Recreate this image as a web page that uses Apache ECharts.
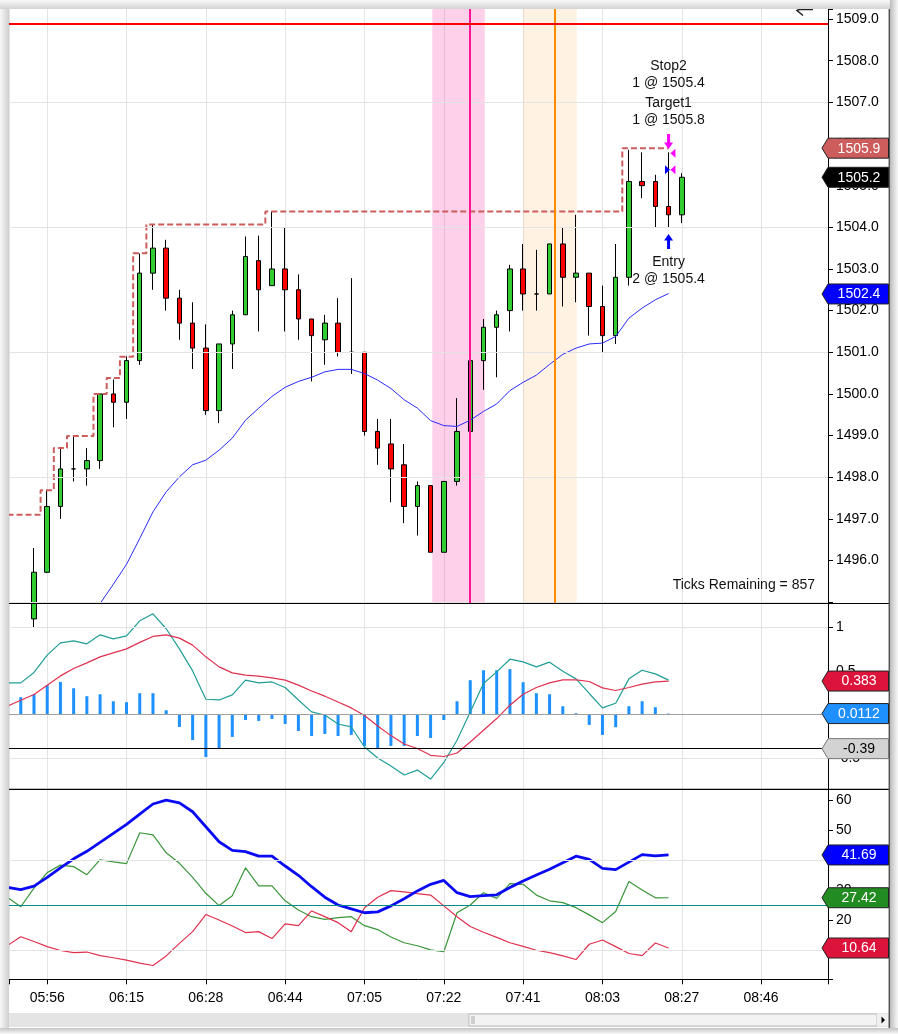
<!DOCTYPE html>
<html><head><meta charset="utf-8">
<script src="https://cdn.jsdelivr.net/npm/echarts@6/dist/echarts.min.js"></script>
<style>html,body{margin:0;padding:0;background:#fff}#c{width:898px;height:1034px}</style>
</head><body><div id="c"></div><script>
// ---------- data ----------
const timeLabels = ['05:56','06:15','06:28','06:44','07:05','07:22','07:41','08:03','08:27','08:46'];
const LABEL_STEP = 6;          // bars between time labels
const FIRST_CANDLE = -1;       // bar number of first candle (05:56 bar = 0)
const candleOpen  = [1494.6,1495.72,1497.3,1498.2,1498.2,1498.4,1500.0,1499.8,1500.8,1502.9,1503.5,1502.3,1501.7,1501.1,1499.6,1501.2,1501.9,1503.2,1502.6,1503.0,1502.5,1501.8,1501.3,1501.7,1501.0,1501.0,1499.1,1498.8,1498.3,1497.3,1497.8,1496.2,1497.9,1499.1,1500.8,1501.6,1502.0,1503.0,1502.4,1502.4,1503.6,1502.8,1502.9,1502.1,1501.4,1502.8,1505.1,1505.1,1504.5,1504.3];
const candleClose = [1495.72,1497.3,1498.2,1498.2,1498.4,1500.0,1499.8,1500.8,1502.9,1503.5,1502.3,1501.7,1501.1,1499.6,1501.2,1501.9,1503.3,1502.5,1503.0,1502.5,1501.8,1501.4,1501.7,1501.0,1501.0,1499.1,1498.7,1498.2,1497.3,1497.8,1496.2,1497.9,1499.1,1500.8,1501.6,1501.9,1503.0,1502.4,1502.4,1503.6,1502.8,1502.9,1502.1,1501.4,1502.8,1505.1,1505.0,1504.5,1504.3,1505.2];
const candleLow   = [1494.4,1495.7,1497.0,1497.9,1497.8,1498.2,1499.2,1499.4,1500.7,1502.5,1502.0,1501.3,1500.6,1499.5,1499.3,1500.6,1501.9,1501.5,1502.6,1501.5,1501.3,1500.3,1500.7,1500.9,1500.48,1499.0,1498.3,1497.4,1496.9,1496.6,1496.2,1496.2,1497.8,1498.5,1500.1,1500.4,1501.5,1502.0,1502.0,1502.4,1502.1,1502.2,1501.4,1501.0,1501.2,1502.6,1504.7,1504.0,1504.0,1504.1];
const candleHigh  = [1496.3,1497.7,1498.7,1499.0,1498.7,1500.0,1500.35,1500.9,1503.37,1504.06,1503.7,1502.5,1502.2,1501.67,1501.2,1502.0,1503.78,1503.8,1504.38,1504.0,1502.87,1501.8,1501.9,1502.3,1502.78,1501.0,1499.4,1499.4,1498.8,1497.9,1497.8,1497.9,1499.9,1500.8,1501.8,1502.0,1503.1,1503.6,1503.46,1503.6,1504.0,1504.3,1502.9,1502.6,1503.6,1505.86,1505.8,1505.26,1505.8,1505.3];

const FIRST_IND = -3;          // bar number of first indicator value
const stopLevels = [1497.1,1497.1,1497.1,1497.69,1498.7,1498.99,1498.99,1500.0,1500.38,1500.89,1503.38,
  1504.07,1504.07,1504.07,1504.07,1504.07,1504.07,1504.07,1504.07,1504.07,
  1504.38,1504.38,1504.38,1504.38,1504.38,1504.38,1504.38,1504.38,1504.38,1504.38,1504.38,1504.38,1504.38,1504.38,
  1504.38,1504.38,1504.38,1504.38,1504.38,1504.38,1504.38,1504.38,1504.38,1504.38,1504.38,1504.38,1504.38,
  1505.9,1505.9,1505.9,1505.9];
const FIRST_SMA = 3;
const smaValues = [1494.45,1494.97,1495.43,1495.91,1496.53,1497.17,1497.65,1498.01,1498.30,1498.41,1498.65,1498.94,1499.37,1499.66,1499.94,1500.16,1500.30,1500.40,1500.53,1500.59,1500.59,1500.49,1500.33,1500.13,1499.86,1499.66,1499.36,1499.24,1499.22,1499.37,1499.58,1499.76,1500.08,1500.28,1500.45,1500.71,1500.95,1501.10,1501.20,1501.22,1501.38,1501.82,1502.06,1502.26,1502.41];

const macdLine = [0.362,0.362,0.481,0.679,0.820,0.843,0.809,0.912,0.866,0.900,1.072,1.152,0.981,0.751,0.499,0.175,0.167,0.225,0.393,0.362,0.373,0.309,0.167,0.030,-0.005,-0.108,-0.142,-0.371,-0.497,-0.589,-0.692,-0.635,-0.738,-0.548,-0.294,0.030,0.355,0.488,0.633,0.603,0.545,0.599,0.496,0.408,0.241,0.076,0.129,0.408,0.507,0.465,0.394];
const macdSignal = [0.097,0.164,0.229,0.336,0.442,0.527,0.591,0.660,0.706,0.751,0.825,0.893,0.912,0.874,0.794,0.660,0.545,0.477,0.450,0.439,0.419,0.393,0.336,0.270,0.210,0.144,0.076,-0.011,-0.131,-0.241,-0.337,-0.389,-0.466,-0.480,-0.440,-0.314,-0.180,-0.046,0.107,0.232,0.309,0.362,0.396,0.396,0.378,0.305,0.275,0.309,0.347,0.373,0.383];
const macdHist = [0.255,0.198,0.232,0.336,0.373,0.301,0.210,0.232,0.152,0.141,0.244,0.244,0.049,-0.142,-0.291,-0.486,-0.383,-0.256,-0.062,-0.073,-0.050,-0.108,-0.188,-0.245,-0.222,-0.245,-0.233,-0.359,-0.383,-0.359,-0.359,-0.245,-0.268,-0.062,0.152,0.393,0.507,0.507,0.519,0.370,0.244,0.232,0.095,0.015,-0.119,-0.233,-0.145,0.095,0.152,0.084,0.0112];

const adxLine = [30.9,30.1,31.3,34.2,37.4,40.4,42.9,45.9,48.9,51.9,55.3,58.7,60.0,59.1,56.1,51.1,46.1,43.2,42.8,41.3,41.3,38.0,34.9,31.1,27.6,25.0,23.7,22.4,22.7,24.7,27.1,29.7,31.9,33.2,29.1,27.8,28.1,28.4,30.8,33.0,35.0,36.9,39.1,41.3,40.2,37.2,36.8,39.3,41.8,41.4,41.69];
const plusDI = [27.5,24.4,30.6,35.8,38.3,37.8,35.1,40.1,39.4,38.8,49.1,48.4,42.4,38.9,34.2,28.9,24.8,28.1,37.4,31.4,31.4,26.4,23.3,21.1,20.2,20.8,21.1,18.1,16.8,14.3,12.4,11.4,10.0,9.4,22.4,25.0,29.1,27.2,32.1,31.9,28.3,26.4,25.8,24.1,21.7,19.1,22.8,32.8,30.0,27.4,27.42];
const minusDI = [11.5,14.4,12.8,11.1,9.8,9.1,9.3,8.1,7.4,6.6,5.6,4.8,8.0,12.2,16.1,21.8,20.0,18.0,15.8,16.1,13.8,18.7,18.1,23.0,21.1,19.1,16.1,24.1,27.6,29.8,29.4,28.8,28.3,24.7,21.1,17.8,15.9,14.2,12.4,11.2,9.9,9.1,8.0,6.8,11.9,13.3,11.1,8.8,8.1,12.3,10.64];

const priceGridLevels = [1495,1498,1501,1504,1507];
const macdGridLevels = [1,-0.5];
const adxGridLevels = [10,40];
const alertLevel = 1508.88;
const macdZero = 0, macdTrigger = -0.39, adxThreshold = 25;

const bandStart = [29.13, 36.0], bandEnd = [33.1, 40.05];
const bandColor = ['rgba(255,20,147,0.2)','rgba(255,140,0,0.11)'];
const vLineX = [31.98, 38.41], vLineColor = ['#FF1493','#FF8C00'];

const markerX = [47, 47, 47.33, 46.92, 47.33];
const markerPrice = [1506.06, 1503.66, 1505.78, 1505.38, 1505.38];
const markerShape = ['down','up','left','right','left'];
const markerColor = ['#FF00FF','#0000FF','#FF00FF','#0000FF','#FF00FF'];
const noteX = [47,47,47];
const notePrice = [1507.66, 1506.77, 1502.97];
const noteText = ['Stop2\n1 @ 1505.4','Target1\n1 @ 1505.8','Entry\n2 @ 1505.4'];

const priceTags = [[1505.9,'1505.9','#CD5C5C','#fff'],[1505.2,'1505.2','#000000','#fff'],[1502.4,'1502.4','#0000FF','#fff']];
const macdTags  = [[0.383,'0.383','#DC143C','#fff'],[0.0112,'0.0112','#1E90FF','#fff'],[-0.39,'-0.39','#D3D3D3','#000']];
const adxTags   = [[41.69,'41.69','#0000FF','#fff'],[27.42,'27.42','#228B22','#fff'],[10.64,'10.64','#DC143C','#fff']];

// ---------- build ----------
const FONT = "'Liberation Sans', Arial, sans-serif";
const X_MIN = -2.89, X_MAX = 59.06;
const GRID_LEFT = 9, GRID_RIGHT = 70;
const paneTop = [9, 603.5, 789.3], paneH = [594.5, 185.8, 190];

const seq = (arr, first) => arr.map((v, i) => [first + i, v]);
const candles = candleOpen.map((o, i) => [FIRST_CANDLE + i, o, candleClose[i], candleLow[i], candleHigh[i]]);

const shapes = {
  down: 'path://M3,0 L6,0 L6,8 L9,8 L4.5,14 L0,8 L3,8 Z',
  up: 'path://M4.5,0 L9,6 L6,6 L6,14 L3,14 L3,6 L0,6 Z',
  left: 'path://M10,0 L10,10 L0,5 Z',
  right: 'path://M0,0 L10,5 L0,10 Z'
};
const markers = markerX.map((x, i) => ({
  value: [x, markerPrice[i]],
  symbol: shapes[markerShape[i]],
  symbolSize: (markerShape[i] === 'down' || markerShape[i] === 'up') ? [9, 15] : [5, 9],
  itemStyle: { color: markerColor[i], opacity: 1 }
}));
const notes = noteX.map((x, i) => [x, notePrice[i], noteText[i]]);

function timeFmt(v) {
  const k = Math.round(v / LABEL_STEP);
  if (Math.abs(v - k * LABEL_STEP) > 1e-6 || k < 0 || k >= timeLabels.length) return '';
  return timeLabels[k];
}
function xAxisFor(gi, show) {
  return {
    type: 'value', gridIndex: gi, min: X_MIN, max: X_MAX, minInterval: LABEL_STEP, maxInterval: LABEL_STEP,
    axisLine: { show: show, onZero: false, lineStyle: { color: '#000', width: 1 } },
    axisTick: { show: show, length: 5, lineStyle: { color: '#000' } },
    axisLabel: { show: show, formatter: timeFmt, color: '#000', fontSize: 14, margin: 12, fontFamily: FONT },
    splitLine: { show: true, lineStyle: { color: '#E3E3E3', width: 1 } }
  };
}
function yAxisFor(gi, min, max, step, fmt) {
  return {
    type: 'value', gridIndex: gi, position: 'right', min: min, max: max, minInterval: step, maxInterval: step,
    axisLine: { show: true, onZero: false, lineStyle: { color: '#000', width: 1 } },
    axisTick: { show: true, length: 5, lineStyle: { color: '#000' } },
    axisLabel: { formatter: fmt, color: '#000', fontSize: 14, margin: 8, fontFamily: FONT },
    splitLine: { show: false }
  };
}
const onStep = (v, s) => Math.abs(v / s - Math.round(v / s)) < 1e-6;
const priceFmt = v => (onStep(v, 1) && Math.round(v) >= 1496) ? v.toFixed(1) : '';
const macdFmt = v => onStep(v, 0.5) ? String(Math.round(v * 2) / 2) : '';
const adxFmt = v => onStep(v, 10) ? String(Math.round(v)) : '';

const hLines = (levels, color, width) => levels.map(v => ({ yAxis: v, lineStyle: { color: color, width: width, type: 'solid' } }));
const mlBase = { silent: true, symbol: 'none', label: { show: false }, emphasis: { disabled: true }, animation: false };

const lineS = (gi, data, color, width, z, extra) => Object.assign({
  type: 'line', xAxisIndex: gi, yAxisIndex: gi, data: data, showSymbol: false, symbol: 'none',
  lineStyle: { color: color, width: width }, z: z, silent: true, animation: false
}, extra || {});

const option = {
  animation: false,
  backgroundColor: '#ffffff',
  textStyle: { fontFamily: FONT },
  grid: paneTop.map((t, i) => ({ left: GRID_LEFT, right: GRID_RIGHT, top: t, height: paneH[i] })),
  xAxis: [xAxisFor(0, false), xAxisFor(1, false), xAxisFor(2, true)],
  yAxis: [
    yAxisFor(0, 1494.97, 1509.24, 1, priceFmt),
    yAxisFor(1, -0.855, 1.27, 0.5, macdFmt),
    yAxisFor(2, 0.2, 63.6, 10, adxFmt)
  ],
  series: [
    // price pane background: bands + grid levels
    { type: 'line', xAxisIndex: 0, yAxisIndex: 0, data: [], z: 0, silent: true,
      markArea: { silent: true, animation: false,
        data: bandStart.map((s, i) => [{ xAxis: s, itemStyle: { color: bandColor[i] } }, { xAxis: bandEnd[i] }]) },
      markLine: Object.assign({}, mlBase, { data: hLines(priceGridLevels, '#E3E3E3', 1) }) },
    { type: 'candlestick', xAxisIndex: 0, yAxisIndex: 0, data: candles, encode: { x: 0, y: [1, 2, 3, 4] },
      barWidth: 5, z: 2, silent: true, animation: false, clip: true,
      itemStyle: { color: '#32CD32', color0: '#FF0000', borderColor: '#000', borderColor0: '#000', borderColorDoji: '#000', borderWidth: 1 } },
    lineS(0, seq(stopLevels, FIRST_IND), '#CD5C5C', 2, 3, { step: 'middle', lineStyle: { color: '#CD5C5C', width: 2, type: [6, 3] } }),
    lineS(0, seq(smaValues, FIRST_SMA), '#2A2AFF', 1, 3),
    { type: 'line', xAxisIndex: 0, yAxisIndex: 0, data: [], z: 5, silent: true,
      markLine: Object.assign({}, mlBase, { data:
        vLineX.map((x, i) => ({ xAxis: x, lineStyle: { color: vLineColor[i], width: 2, type: 'solid' } }))
        .concat(hLines([alertLevel], '#FF0000', 2)) }) },
    { type: 'scatter', xAxisIndex: 0, yAxisIndex: 0, data: markers, z: 6, silent: true, animation: false },
    { type: 'scatter', xAxisIndex: 0, yAxisIndex: 0, data: notes, encode: { x: 0, y: 1 }, z: 6, silent: true,
      symbolSize: 1, itemStyle: { color: 'rgba(0,0,0,0)', opacity: 1 }, animation: false,
      label: { show: true, position: 'inside', formatter: p => p.value[2], color: '#111', opacity: 1, fontSize: 14, lineHeight: 17, fontFamily: FONT } },

    // MACD pane
    { type: 'line', xAxisIndex: 1, yAxisIndex: 1, data: [], z: 0, silent: true,
      markLine: Object.assign({}, mlBase, { data: hLines(macdGridLevels, '#E3E3E3', 1)
        .concat(hLines([macdZero], '#A0A0A0', 1)).concat(hLines([macdTrigger], '#000', 1)) }) },
    { type: 'bar', xAxisIndex: 1, yAxisIndex: 1, data: seq(macdHist, FIRST_IND), barWidth: 3, z: 2,
      itemStyle: { color: '#1E90FF' }, silent: true, animation: false, clip: true },
    lineS(1, seq(macdLine, FIRST_IND), '#1F9E96', 1.2, 3),
    lineS(1, seq(macdSignal, FIRST_IND), '#E0304E', 1.2, 3),

    // ADX pane
    { type: 'line', xAxisIndex: 2, yAxisIndex: 2, data: [], z: 0, silent: true,
      markLine: Object.assign({}, mlBase, { data: hLines(adxGridLevels, '#E3E3E3', 1)
        .concat(hLines([adxThreshold], '#008B8B', 1.2)) }) },
    lineS(2, seq(plusDI, FIRST_IND), '#3A963A', 1.2, 3),
    lineS(2, seq(minusDI, FIRST_IND), '#E0304E', 1.2, 3),
    lineS(2, seq(adxLine, FIRST_IND), '#0A0AF5', 2.8, 4)
  ]
};

const chart = echarts.init(document.getElementById('c'), null, { renderer: 'canvas' });
chart.setOption(option);

// ---------- chrome + value tags ----------
const AX_X = 898 - GRID_RIGHT; // axis line x
const lg = (x2, y2, a, b) => ({ type: 'linear', x: 0, y: 0, x2: x2, y2: y2, colorStops: [{ offset: 0, color: a }, { offset: 1, color: b }] });
const g = [];
g.push({ type: 'rect', z: 90, shape: { x: 0, y: 0, width: 9, height: 1034 }, style: { fill: lg(1, 0, '#F8F8F8', '#CFCFCF') } });
g.push({ type: 'rect', z: 90, shape: { x: 0, y: 0, width: 898, height: 9 }, style: { fill: lg(0, 1, '#F8F8F8', '#D4D4D4') } });
g.push({ type: 'rect', z: 90, shape: { x: 890, y: 0, width: 8, height: 1034 }, style: { fill: lg(1, 0, '#BDBDBD', '#F8F8F8') } });
g.push({ type: 'rect', z: 90, shape: { x: 0, y: 1028, width: 898, height: 6 }, style: { fill: lg(0, 1, '#C4C4C4', '#F8F8F8') } });
g.push({ type: 'line', z: 91, shape: { x1: 889.3, y1: 9, x2: 889.3, y2: 1028 }, style: { stroke: '#555', lineWidth: 1.5 } });
// pane separators
[paneTop[1], paneTop[2]].forEach(y => g.push({ type: 'line', z: 50, shape: { x1: 9, y1: y, x2: 889, y2: y }, style: { stroke: '#000', lineWidth: 1.2 } }));
// scrollbar
g.push({ type: 'rect', z: 50, shape: { x: 9, y: 1013, width: 880, height: 14 }, style: { fill: '#E4E4E4' } });
g.push({ type: 'rect', z: 51, shape: { x: 469, y: 1014, width: 408, height: 12 }, style: { fill: '#F3F3F3', stroke: '#BDBDBD', lineWidth: 1 } });
g.push({ type: 'line', z: 52, shape: { x1: 472, y1: 1016, x2: 472, y2: 1024 }, style: { stroke: '#AAA', lineWidth: 1 } });
g.push({ type: 'line', z: 52, shape: { x1: 474, y1: 1016, x2: 474, y2: 1024 }, style: { stroke: '#AAA', lineWidth: 1 } });
g.push({ type: 'rect', z: 51, shape: { x: 877, y: 1014, width: 11, height: 12 }, style: { fill: '#F0F0F0' } });
g.push({ type: 'polygon', z: 52, shape: { points: [[881.5, 1016.5], [881.5, 1023.5], [885, 1020]] }, style: { fill: '#000' } });
// top-right navigation glyph
g.push({ type: 'polyline', z: 52, shape: { points: [[813, 9.5], [799, 9.5], [797, 10.5], [803, 15.5]] }, style: { stroke: '#222', lineWidth: 1.6, fill: null } });
// ticks remaining text
g.push({ type: 'text', z: 52, style: { text: 'Ticks Remaining = 857', x: 815, y: 585, align: 'right', verticalAlign: 'middle', fill: '#111', font: '14px ' + FONT } });

function addTags(tags, axisIndex) {
  tags.forEach(t => {
    const y = chart.convertToPixel({ yAxisIndex: axisIndex }, t[0]);
    const x0 = AX_X - 6, x1 = AX_X, x2 = 888.5;
    g.push({ type: 'polygon', z: 100, shape: { points: [[x0, y], [x1, y - 10], [x2, y - 10], [x2, y + 10], [x1, y + 10]] },
      style: { fill: t[2], stroke: t[2] === '#D3D3D3' ? '#777' : '#222', lineWidth: 1 } });
    g.push({ type: 'text', z: 101, style: { text: t[1], x: 859, y: y + 0.5, align: 'center', verticalAlign: 'middle', fill: t[3], font: '14px ' + FONT } });
  });
}
addTags(priceTags, 0);
addTags(macdTags, 1);
addTags(adxTags, 2);
chart.setOption({ graphic: g });
</script></body></html>
